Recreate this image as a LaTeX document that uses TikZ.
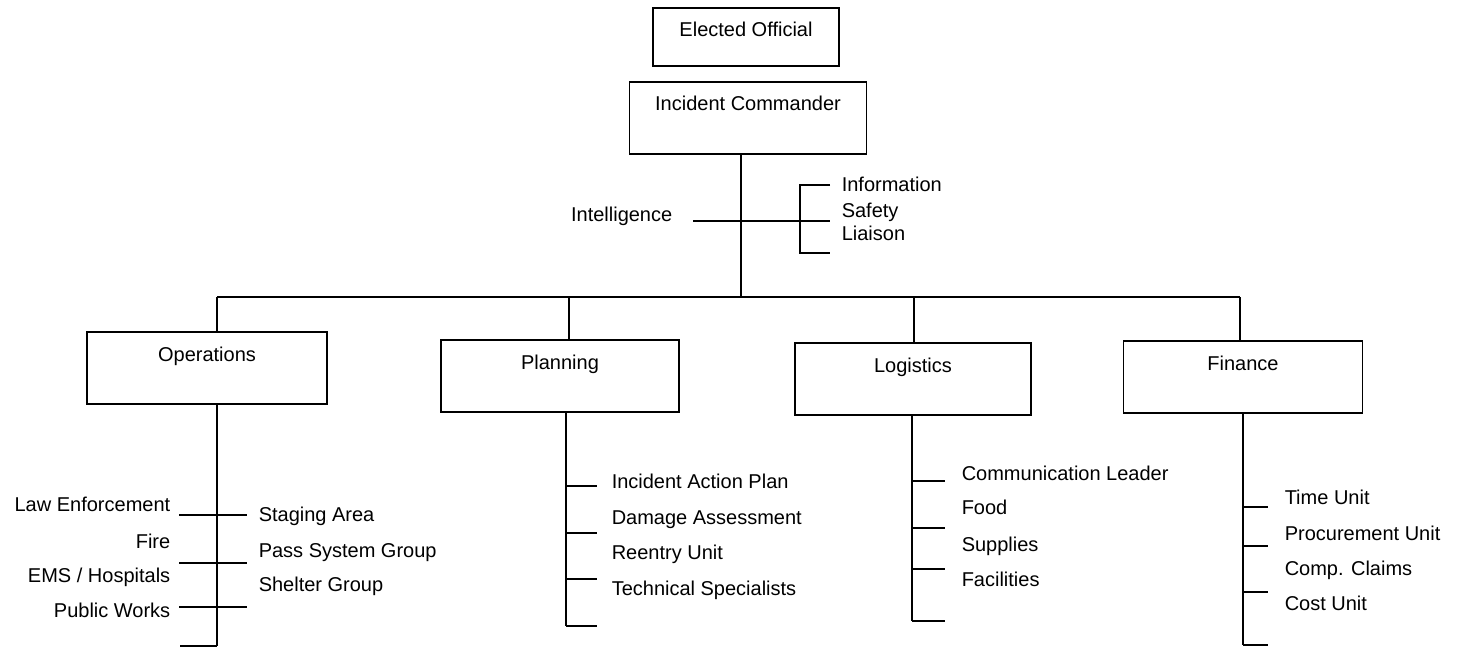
\documentclass[tikz,border=0pt]{standalone}
\usepackage{fontspec}
\setmainfont{Liberation Sans}
\usetikzlibrary{positioning}

\tikzset{unitbox/.style={draw, inner sep=0pt, text height=29pt, text depth=43pt},
         unitname/.style={inner sep=0pt, text height=14pt, text depth=0pt}}

\begin{document}
\begin{tikzpicture}[x=1pt,y=-1pt,line width=1.5pt,font=\fontsize{20}{24}\selectfont]
\useasboundingbox (0,0) rectangle (1466,647);
\node[unitbox,minimum width=186pt,text depth=29pt] (elected) at (746,37) {Elected Official};
\node[unitbox,minimum width=237pt] (ic) at (748,118) {Incident Commander};
\node[unitbox,minimum width=240pt] (ops) at (207,368) {Operations};
\node[unitbox,minimum width=238pt] (plan) at (560,376) {Planning};
\node[unitbox,minimum width=236pt] (log) at (913,379) {Logistics};
\node[unitbox,minimum width=239pt] (fin) at (1243,377) {Finance};
% command staff
\node[unitname,anchor=east] (intel) at (673,215) {Intelligence};
\node[unitname,anchor=west] (info) at (841,185) {Information};
\node[unitname,anchor=west] (safety) at (841,210) {Safety};
\node[unitname,anchor=west] (liaison) at (841,233) {Liaison};
\coordinate (bus) at (741,297);
\coordinate (staff) at (830,221);
\coordinate (brk) at (800,253);
\draw (ic.south -| bus) -- (bus);
\draw ([xshift=20pt,yshift=-6pt]intel.east) -- (staff);
\draw ([xshift=-11pt]info.west) -| (brk) -- (brk -| staff);
% sections
\coordinate (ops-top) at (217,297);
\coordinate (plan-top) at (569,297);
\coordinate (log-top) at (914,297);
\coordinate (fin-top) at (1240,297);
\coordinate (ops-end) at (217,646);
\coordinate (plan-end) at (566,626);
\coordinate (log-end) at (912,621);
\coordinate (fin-end) at (1243,645);
\draw (ops-top) -- (fin-top);
\foreach \n in {ops,plan,log,fin} {
  \draw (\n-top) -- (\n.north -| \n-top);
  \draw (\n.south -| \n-end) -- (\n-end);
}
% operations
\foreach \y [count=\i] in {515,563,607} {
  \coordinate (ops-l\i) at (179,\y);
  \coordinate (ops-r\i) at (247,\y);
  \draw (ops-l\i) -- (ops-r\i);
}
\coordinate (ops-l4) at (180,646);
\draw (ops-l4) -- (ops-end);
\foreach \t/\y [count=\i] in {Law Enforcement/504,Fire/541,{EMS / Hospitals}/575,Public Works/610}
  \node[unitname,anchor=east] (ops-a\i) at (171,\y) {\t};
\foreach \t/\y [count=\i] in {Staging Area/514,Pass System Group/550,Shelter Group/584}
  \node[unitname,anchor=west] (ops-b\i) at (258,\y) {\t};
% planning, logistics, finance
\foreach \n/\x/\ylist in {plan/597/{486,533,579,626},log/945/{481,528,569,621},fin/1268/{507,546,592,645}}
  \foreach \y [count=\i] in \ylist {
    \coordinate (\n-t\i) at (\x,\y);
    \draw (\n-t\i -| \n-end) -- (\n-t\i);
  }
\foreach \t/\y [count=\i] in {Incident Action Plan/481,Damage Assessment/517,Reentry Unit/552,Technical Specialists/588}
  \node[unitname,anchor=west] (plan-\i) at (611,\y) {\t};
\foreach \t/\y [count=\i] in {Communication Leader/473,Food/507,Supplies/544,Facilities/579}
  \node[unitname,anchor=west] (log-\i) at (961,\y) {\t};
\foreach \t/\y [count=\i] in {Time Unit/497,Procurement Unit/533,Comp. Claims/568,Cost Unit/603}
  \node[unitname,anchor=west] (fin-\i) at (1284,\y) {\t};
\end{tikzpicture}
\end{document}
